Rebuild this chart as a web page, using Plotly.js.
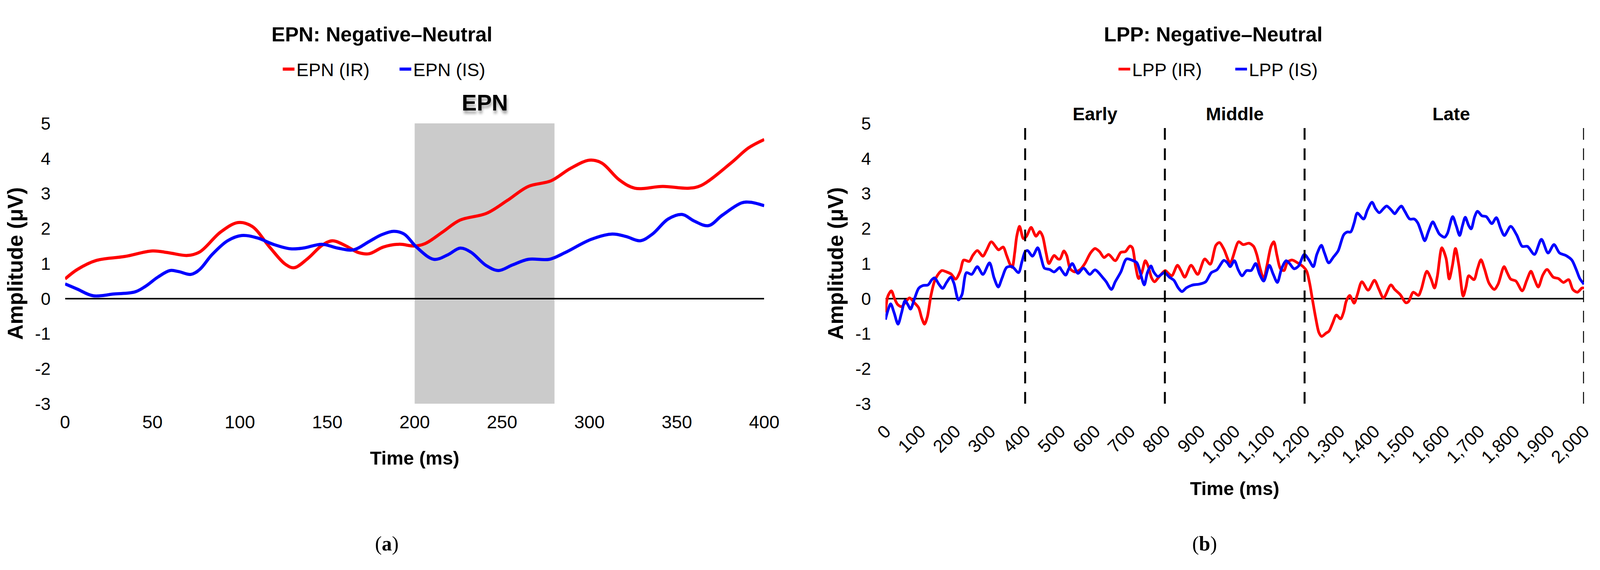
<html>
<head>
<script src="https://cdn.plot.ly/plotly-3.0.1.min.js"></script>
</head>
<body style="margin:0; overflow:hidden">
<div id="chart"></div>
<script>
// (a) EPN: Negative-Neutral, 0-400 ms
let epnTimeIR = [0,7,18,34,50,59,70,77,89,99,107,117,126,131,139,147,153,160,168,174,182,191,200,206,216,226,241,253,265,278,289,300,307,317,326,342,357,364,381,391,400];
let epnIR = [0.56,0.83,1.09,1.2,1.36,1.31,1.23,1.33,1.9,2.17,2.06,1.47,0.98,0.88,1.15,1.52,1.65,1.52,1.31,1.28,1.47,1.55,1.5,1.57,1.9,2.24,2.43,2.8,3.2,3.36,3.71,3.95,3.87,3.39,3.15,3.2,3.15,3.23,3.87,4.3,4.54];
let epnTimeIS = [0,7,16,28,40,46,53,60,65,72,77,84,93,101,110,119,129,136,147,156,165,174,181,188,194,201,211,219,226,232,241,248,256,265,277,286,301,313,321,329,336,345,353,360,368,376,387,392,400];
let epnIS = [0.42,0.27,0.08,0.13,0.19,0.35,0.61,0.8,0.77,0.69,0.83,1.25,1.65,1.8,1.73,1.55,1.42,1.44,1.55,1.44,1.39,1.63,1.82,1.92,1.84,1.47,1.12,1.25,1.44,1.33,0.94,0.8,0.96,1.12,1.12,1.31,1.69,1.84,1.77,1.65,1.84,2.27,2.4,2.21,2.08,2.38,2.73,2.75,2.65];
let epnWindow = [200, 280];

// (b) LPP: Negative-Neutral, 0-2000 ms
let lppTimeIR = [0,7,17,26,35,46,59,69,82,95,104,112,120,130,140,153,162,175,188,201,214,224,240,250,263,279,289,303,318,324,337,347,357,363,370,376,384,395,404,417,431,442,450,460,468,483,494,
  500,511,519,529,542,558,571,587,600,613,626,639,658,674,687,700,707,716,725,734,744,752,762,770,784,801,810,820,836,846,857,875,894,914,930,946,956,969,987,
  1011,1024,1041,1054,1063,1073,1083,1092,1104,1112,1121,1131,1141,1151,1164,1180,1196,1206,1215,1222,1232,1241,1249,1261,1270,1280,1291,1303,1312,1319,1329,1342,1351,1364,1382,1400,1413,1426,1447,1458,1474,1490,
  1498,1511,1526,1534,1550,1562,1572,1580,1593,1605,1614,1623,1632,1642,1654,1662,1670,1685,1695,1705,1715,1728,1743,1754,1771,1780,1790,1805,1823,1836,1848,1858,1869,1882,1894,1912,1927,1941,1956,1968,1981,1994,2000];
let lppIR = [-0.4,0.07,0.22,0,-0.17,-0.23,-0.08,0.02,-0.11,-0.26,-0.56,-0.73,-0.52,0.07,0.48,0.72,0.8,0.76,0.7,0.555,0.78,1.1,1.06,1.23,1.37,1.21,1.37,1.62,1.45,1.39,1.47,1.23,0.97,0.89,1.3,1.78,2.06,1.71,1.78,2.03,1.78,1.91,1.78,1.3,1.0,1.23,1.13,
  1.13,1.36,1.23,0.85,0.76,0.83,1.0,1.3,1.43,1.34,1.17,1.26,1.08,1.32,1.34,1.5,1.45,0.93,0.57,0.74,1.08,0.93,0.59,0.48,0.63,0.8,0.72,0.65,0.95,0.8,0.61,0.95,0.69,1.13,0.98,1.52,1.6,1.41,1.02,
  1.62,1.54,1.58,1.49,1.26,0.85,0.555,0.93,1.49,1.62,1.23,0.85,0.8,1.04,1.1,1.02,0.91,0.78,0.41,0.0,-0.56,-0.97,-1.08,-0.99,-0.93,-0.71,-0.47,-0.58,-0.38,-0.08,0.09,-0.13,0.11,0.48,0.24,0.52,0.26,0.015,0.39,0.26,0.11,-0.12,
  -0.08,0.18,0.09,0.26,0.78,0.56,0.3,0.63,1.45,1.15,0.56,0.93,1.43,0.93,0.07,0.33,0.65,0.54,0.85,1.11,0.85,0.44,0.26,0.41,0.91,0.74,0.555,0.5,0.22,0.52,0.78,0.555,0.33,0.67,0.83,0.61,0.57,0.46,0.54,0.26,0.18,0.3,0.3];
let lppTimeIS = [0,7,15,25,36,46,56,64,72,82,95,107,122,133,141,153,164,175,187,196,209,219,232,247,263,279,298,311,323,334,347,363,381,391,400,407,421,436,446,455,470,483,499,
  503,516,525,535,551,567,585,600,623,632,647,658,674,690,707,720,729,741,750,760,768,780,799,813,826,838,849,862,881,898,917,933,949,969,979,987,
  999,1010,1021,1034,1047,1060,1071,1083,1099,1110,1122,1134,1147,1157,1170,1183,1199,1212,1225,1235,1248,1257,1269,1283,1296,1312,1322,1332,1342,1351,1369,1380,1393,1403,1414,1426,1435,1448,1458,1468,1477,1487,
  1501,1514,1524,1534,1544,1555,1567,1577,1586,1601,1609,1624,1634,1644,1652,1660,1670,1677,1687,1695,1708,1720,1736,1749,1761,1772,1790,1807,1823,1838,1858,1878,1897,1914,1930,1948,1965,1978,1988,2000];
let lppIS = [-0.6,-0.34,-0.15,-0.41,-0.73,-0.41,-0.06,-0.17,-0.3,-0.04,0.29,0.37,0.39,0.54,0.59,0.41,0.29,0.46,0.61,0.44,-0.04,0.11,0.74,0.69,0.91,0.69,1.02,0.59,0.33,0.59,0.89,0.91,0.74,1.06,1.34,1.37,1.21,1.45,1.15,0.87,0.83,0.76,0.89,
  0.83,0.67,0.85,1.0,0.72,0.87,0.69,0.82,0.59,0.48,0.26,0.48,0.76,1.13,1.09,1.02,0.76,0.39,0.74,0.93,0.76,0.63,0.74,0.61,0.52,0.31,0.2,0.31,0.39,0.41,0.48,0.74,0.82,1.09,1.02,0.91,
  1.08,0.82,0.65,0.8,0.8,1.0,0.7,0.5,0.95,0.7,0.46,0.85,1.08,1.0,0.85,0.93,1.26,1.11,0.91,1.26,1.52,1.3,1.02,1.19,1.36,1.82,1.9,1.9,2.16,2.44,2.27,2.53,2.75,2.57,2.45,2.57,2.64,2.53,2.42,2.55,2.64,2.49,
  2.27,2.27,2.16,1.9,1.65,1.93,2.19,2.01,1.84,1.75,1.86,2.34,2.08,1.8,2.08,2.32,2.08,1.99,2.34,2.49,2.36,2.34,2.14,2.31,2.01,1.8,2.06,1.82,1.49,1.49,1.26,1.69,1.3,1.54,1.3,1.23,1.1,0.82,0.57,0.41];
let lppBounds = [400, 800, 1200, 2000];
let lppWindows = ['Early', 'Middle', 'Late'];
let lppWindowMid = [600, 1000, 1620];

let yTickVals = [-3,-2,-1,0,1,2,3,4,5];
let yTickText = ['-3','-2','-1','0','1','2','3','4','5'];

// the window may be narrower than the 5506px reference, so lay out in fractions
const REF_W = 5506, REF_H = 1460;
const W = window.innerWidth || 4096, H = window.innerHeight || 1460;
const sx = W / REF_W;
const red = '#ff0000', blue = '#0000ff';
const font = 'Liberation Sans, Arial, sans-serif';

// horizontal text gets squeezed when the window is narrower: use a narrow face if there is one
function hasFont(name) {
  let c = document.createElement('canvas').getContext('2d');
  let s = 'EPN (IR) Negative–Neutral 0123456789';
  return ['monospace', 'serif'].some(fb => {
    c.font = '50px ' + fb; let a = c.measureText(s).width;
    c.font = '50px "' + name + '", ' + fb; let b = c.measureText(s).width;
    return Math.abs(a - b) > 0.5;
  });
}
const narrow = sx < 0.95 && hasFont('Liberation Sans Narrow');
const hfont = narrow ? '"Liberation Sans Narrow", ' + font : font;
const fs = narrow ? 1.0 : (sx < 0.95 ? 0.9 : 1.0);

const fx = v => v / REF_W, fy = v => 1 - v / REF_H;

let data = [
  {x: epnTimeIR, y: epnIR, xaxis: 'x', yaxis: 'y', mode: 'lines', name: 'EPN (IR)',
   line: {color: red, width: 8, shape: 'spline'}, legend: 'legend'},
  {x: epnTimeIS, y: epnIS, xaxis: 'x', yaxis: 'y', mode: 'lines', name: 'EPN (IS)',
   line: {color: blue, width: 8, shape: 'spline'}, legend: 'legend'},
  {x: lppTimeIR, y: lppIR, xaxis: 'x2', yaxis: 'y2', mode: 'lines', name: 'LPP (IR)',
   line: {color: red, width: 7, shape: 'spline', smoothing: 0.8}, legend: 'legend2'},
  {x: lppTimeIS, y: lppIS, xaxis: 'x2', yaxis: 'y2', mode: 'lines', name: 'LPP (IS)',
   line: {color: blue, width: 7, shape: 'spline', smoothing: 0.8}, legend: 'legend2'}
];

let yax = () => ({
  domain: [fy(1034), fy(316)], range: [-3, 5], tickvals: yTickVals, ticktext: yTickText,
  showgrid: false, showline: false, ticks: '', zeroline: true, zerolinecolor: '#000', zerolinewidth: 4,
  tickfont: {family: hfont, size: 50 * fs, color: '#000'}, ticklabelstandoff: Math.round(48 * sx),
  title: {text: '<b>Amplitude (μV)</b>', font: {family: font, size: 55, color: '#000'}, standoff: Math.round(18 * sx)}
});

let shapes = [{
  type: 'rect', xref: 'x', yref: 'y', x0: epnWindow[0], x1: epnWindow[1], y0: -3, y1: 5,
  fillcolor: '#cbcbcb', line: {width: 0}, layer: 'below'
}];
lppBounds.forEach(b => shapes.push({
  type: 'line', xref: 'x2', yref: 'y2', x0: b, x1: b, y0: -3, y1: 5,
  line: {color: '#000', width: 5, dash: '30px,22px'}, layer: 'above'
}));

let note = (text, x, y, size, extra) => Object.assign({
  text: text, xref: 'paper', yref: 'paper', x: x, y: y, xanchor: 'center', yanchor: 'middle',
  showarrow: false, font: {family: hfont, size: size, color: '#000'}
}, extra || {});

let annotations = [
  note('<b>EPN: Negative–Neutral</b>', fx(1315), fy(88), 58 * fs),
  note('<b>LPP: Negative–Neutral</b>', fx(4175), fy(88), 58 * fs),
  note('<b>EPN</b>', (epnWindow[0] + epnWindow[1]) / 2, fy(263), 64 * fs,
       {xref: 'x', font: {family: hfont, size: 64 * fs, color: '#000', shadow: '2px 8px 6px rgba(0,0,0,0.35)'}}),
  note('(<b>a</b>)', fx(1331), fy(1393), 52, {font: {family: 'Liberation Serif, serif', size: 52, color: '#000'}}),
  note('(<b>b</b>)', fx(4146), fy(1393), 52, {font: {family: 'Liberation Serif, serif', size: 52, color: '#000'}})
];
lppWindows.forEach((w, i) => annotations.push(
  note('<b>' + w + '</b>', lppWindowMid[i], fy(292), 52 * fs, {xref: 'x2'})
));

let legendBase = {
  orientation: 'h', xanchor: 'left', yanchor: 'middle', y: fy(177),
  font: {family: hfont, size: 52 * fs, color: '#000'}, bgcolor: 'rgba(0,0,0,0)',
  entrywidth: Math.round(398 * sx) - 42, itemwidth: 30
};

let layout = {
  width: W, height: H,
  margin: {l: 0, r: 0, t: 0, b: 0},
  paper_bgcolor: '#fff', plot_bgcolor: 'rgba(0,0,0,0)',
  showlegend: true,
  legend: Object.assign({}, legendBase, {x: fx(973) - 5 / W}),
  legend2: Object.assign({}, legendBase, {x: fx(3849) - 5 / W}),
  xaxis: {
    domain: [fx(224), fx(2630)], range: [0, 400], dtick: 50, tick0: 0,
    showgrid: false, zeroline: false, showline: false, ticks: '',
    tickfont: {family: hfont, size: 52 * fs, color: '#000'}, ticklabelstandoff: 15,
    title: {text: '<b>Time (ms)</b>', font: {family: hfont, size: 54 * fs, color: '#000'}, standoff: 50}
  },
  xaxis2: {
    domain: [fx(3047), fx(5451)], range: [0, 2000], dtick: 100, tick0: 0, tickformat: ',d',
    tickangle: -45, anchor: 'y2',
    showgrid: false, zeroline: false, showline: false, ticks: '',
    tickfont: {family: font, size: 46, color: '#000'}, ticklabelstandoff: 34,
    title: {text: '<b>Time (ms)</b>', font: {family: hfont, size: 54 * fs, color: '#000'}, standoff: 38}
  },
  yaxis: yax(),
  yaxis2: Object.assign(yax(), {anchor: 'x2'}),
  shapes: shapes,
  annotations: annotations
};

Plotly.newPlot('chart', data, layout, {displayModeBar: false, staticPlot: true});
</script>
</body>
</html>
